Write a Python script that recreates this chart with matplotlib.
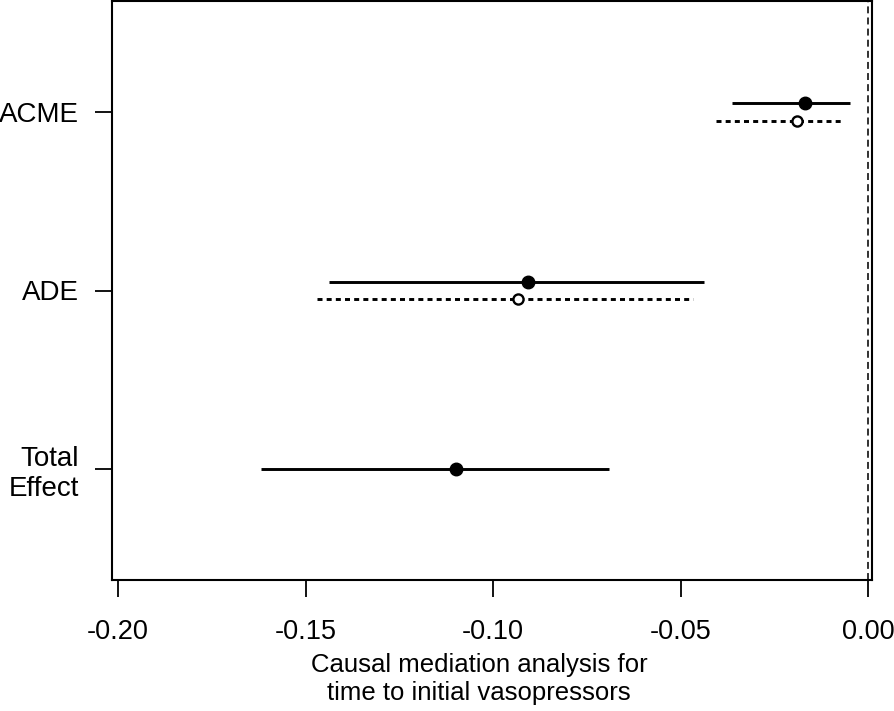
import matplotlib.pyplot as plt
import numpy as np

plt.rcParams['font.family'] = ['Liberation Sans', 'DejaVu Sans']
plt.rcParams['lines.scale_dashes'] = False

# estimates
labels = ['ACME', 'ADE', 'Total\nEffect']
ypos = np.array([3, 2, 1])
# treated (solid, filled point)
est_t = np.array([-0.0168, -0.0907, -0.1099])
lo_t = np.array([-0.0363, -0.1437, -0.1619])
hi_t = np.array([-0.0048, -0.0437, -0.0691])
# control (dashed, open point), no separate total effect
est_c = np.array([-0.0190, -0.0933])
lo_c = np.array([-0.0406, -0.1469])
hi_c = np.array([-0.0066, -0.0467])
xticks = [-0.20, -0.15, -0.10, -0.05, 0.00]

W, H = 894, 711
fig = plt.figure(figsize=(W / 100, H / 100), dpi=100)
ax = fig.add_axes([112 / W, (H - 580) / H, 760 / W, 579 / H])

off = 0.05
for i in range(3):
    y = ypos[i] + (off if i < 2 else 0)
    ax.plot([lo_t[i], hi_t[i]], [y, y], color='black', lw=2.1, solid_capstyle='butt')
    ax.plot(est_t[i], y, 'o', color='black', ms=9)
for i in range(2):
    y = ypos[i] - off
    ax.plot([lo_c[i], hi_c[i]], [y, y], color='black', lw=2.1, linestyle=(0, (3.6, 3.0)))
    ax.plot(est_c[i], y, 'o', mfc='white', mec='black', mew=1.7, ms=7.3)

ax.axvline(0, color='#222222', lw=1.3, linestyle=(0, (5, 3)))

ax.set_xlim((112 - 868) / 3750, (872 - 868) / 3750)
ax.set_ylim(0.38, 3.62)
ax.set_xticks(xticks)
ax.set_xticklabels([f'{v:.2f}' for v in xticks])
ax.set_yticks(ypos)
ax.set_yticklabels(labels, ha='right', multialignment='right')
ax.tick_params(axis='x', length=12, width=1.3, pad=16, labelsize=19.5)
ax.tick_params(axis='y', length=12, width=1.3, pad=12, labelsize=20)
for s in ax.spines.values():
    s.set_linewidth(1.5)

fig.text(479 / W, 1 - 653 / H, 'Causal mediation analysis for\ntime to initial vasopressors',
         ha='center', va='top', fontsize=18.5, linespacing=1.2)

fig.savefig('out.png', dpi=100)
